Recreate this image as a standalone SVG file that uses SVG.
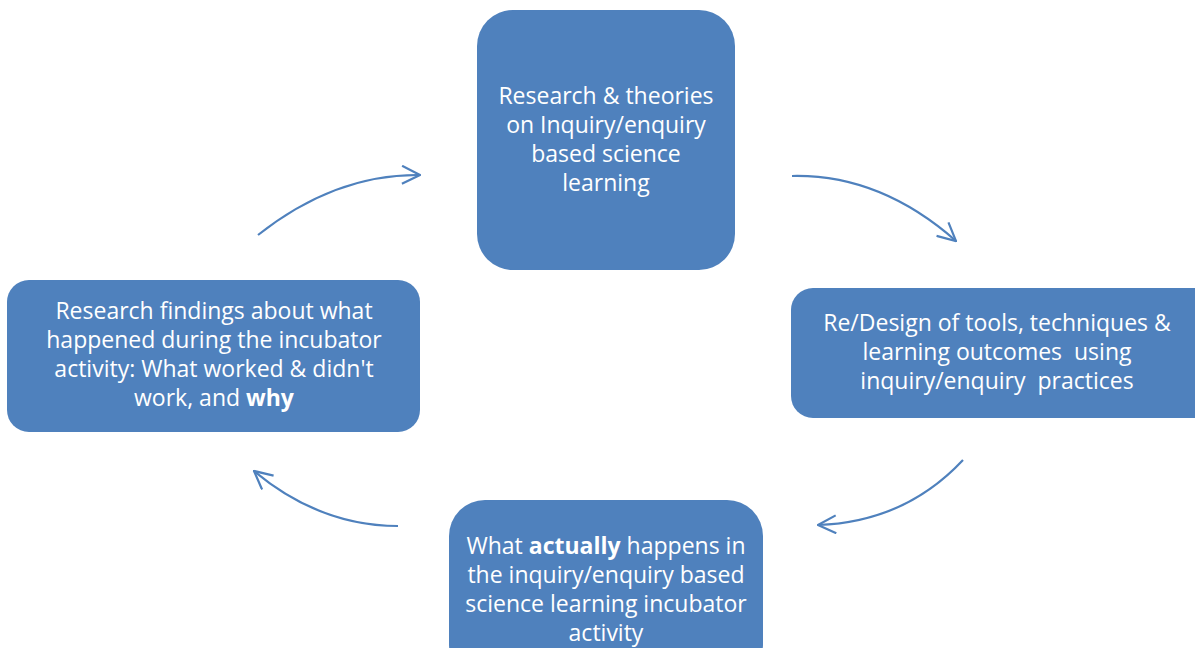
<svg xmlns="http://www.w3.org/2000/svg" width="1195" height="648" viewBox="0 0 1195 648">
  <defs>
    <style>
      .box { fill: #4f81bd; }
      .lbl { fill: #ffffff; font-family: "Open Sans", Lato, "Liberation Sans", sans-serif; font-size: 23px; text-anchor: middle; }
      .b { font-weight: bold; }
      .link { fill: none; stroke: #4f81bd; stroke-width: 2.2; marker-end: url(#chev); }
    </style>
    <marker id="chev" viewBox="0 0 20 20" refX="19" refY="10" markerWidth="20" markerHeight="20" markerUnits="userSpaceOnUse" orient="auto">
      <path d="M1,1 L19,10 L1,19" fill="none" stroke="#4f81bd" stroke-width="2.2"/>
    </marker>
  </defs>
  <rect width="1195" height="648" fill="#ffffff"/>

  <!-- cycle connectors -->
  <g id="connectors">
    <path class="link" d="M792,176 Q880,174 956,241"/>
    <path class="link" d="M963,460 Q905,522 818,525"/>
    <path class="link" d="M398,526 Q320,526 254,471"/>
    <path class="link" d="M258,235 Q335,174 420,175"/>
  </g>

  <g id="theory">
    <rect class="box" x="477" y="10" width="258" height="260" rx="36"/>
    <text class="lbl" x="606" y="104">Research &amp; theories</text>
    <text class="lbl" x="606" y="133">on Inquiry/enquiry</text>
    <text class="lbl" x="606" y="162">based science</text>
    <text class="lbl" x="606" y="191">learning</text>
  </g>

  <g id="design">
    <rect class="box" x="791" y="288" width="430" height="130" rx="22"/>
    <text class="lbl" x="997" y="331">Re/Design of tools, techniques &amp;</text>
    <text class="lbl" x="997" y="360" xml:space="preserve">learning outcomes  using</text>
    <text class="lbl" x="997" y="389" xml:space="preserve">inquiry/enquiry  practices</text>
  </g>

  <g id="practice">
    <rect class="box" x="449" y="500" width="314" height="180" rx="36"/>
    <text class="lbl" x="606" y="554">What <tspan class="b">actually</tspan> happens in</text>
    <text class="lbl" x="606" y="583">the inquiry/enquiry based</text>
    <text class="lbl" x="606" y="612">science learning incubator</text>
    <text class="lbl" x="606" y="641">activity</text>
  </g>

  <g id="findings">
    <rect class="box" x="7" y="280" width="413" height="152" rx="22"/>
    <text class="lbl" x="214" y="319">Research findings about what</text>
    <text class="lbl" x="214" y="348">happened during the incubator</text>
    <text class="lbl" x="214" y="377">activity: What worked &amp; didn't</text>
    <text class="lbl" x="214" y="406">work, and <tspan class="b">why</tspan></text>
  </g>
</svg>
